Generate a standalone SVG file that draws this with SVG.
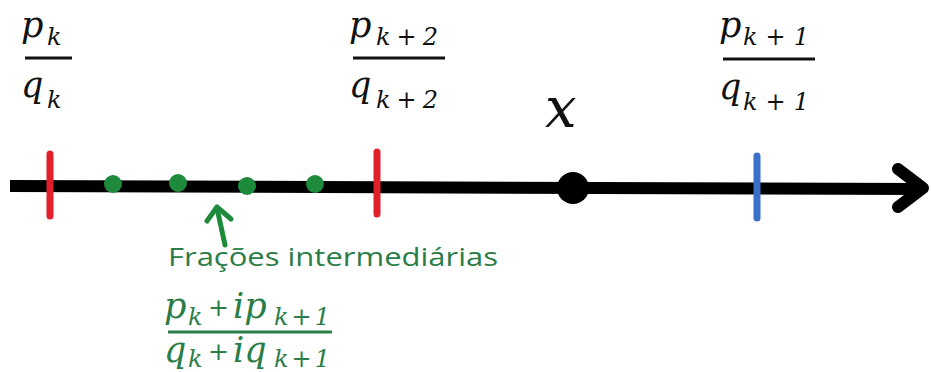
<svg xmlns="http://www.w3.org/2000/svg" width="931" height="372" viewBox="0 0 931 372">
<style>
.m{font-family:"DejaVu Serif","Liberation Serif",serif;font-style:italic;fill:#111}
.big{font-size:35px}
.sub{font-size:24px}
.plus{font-size:25px;font-style:normal}
.g{fill:#2a7d47}
.gt{font-family:"Open Sans","Liberation Sans",sans-serif;font-size:25px;fill:#2a7d47}
.fl{stroke:#111;stroke-width:3}
.gfl{stroke:#2a7d47;stroke-width:3}
.tick{stroke-width:7;stroke-linecap:round;fill:none}
.dot{fill:#1e8a3c}
</style>
<rect width="931" height="372" fill="#fff"/>
<g id="axis">
<line x1="10" y1="186" x2="920" y2="189" stroke="#000" stroke-width="12"/>
<polyline points="898,169 923,188 898,207" fill="none" stroke="#000" stroke-width="12" stroke-linecap="round" stroke-linejoin="round"/>
</g>
<g id="tick-pk">
<line class="tick" x1="50" y1="154" x2="50" y2="216" stroke="#e0202a"/>
</g>
<g id="tick-pk2">
<line class="tick" x1="377" y1="152" x2="377" y2="214" stroke="#e0202a"/>
</g>
<g id="tick-pk1">
<line class="tick" x1="757" y1="156" x2="757" y2="218" stroke="#3a70c8"/>
</g>
<g id="point-x">
<circle cx="573" cy="188" r="16" fill="#000"/>
<text class="m" x="545" y="127" font-size="56">x</text>
</g>
<g id="intermediate-dots">
<circle class="dot" cx="113" cy="184" r="9"/>
<circle class="dot" cx="178" cy="183" r="9"/>
<circle class="dot" cx="247" cy="186" r="9"/>
<circle class="dot" cx="315" cy="184" r="9"/>
</g>
<g id="frac-pk">
<text class="m big" x="21" y="37">p</text>
<text class="m sub" x="47" y="45">k</text>
<line class="fl" x1="25" y1="58" x2="72" y2="58"/>
<text class="m big" x="21" y="97">q</text>
<text class="m sub" x="47" y="108">k</text>
</g>
<g id="frac-pk2">
<text class="m big" x="349" y="37">p</text>
<text class="m sub" x="376" y="45" textLength="62" lengthAdjust="spacing">k+2</text>
<line class="fl" x1="353" y1="58" x2="445" y2="58"/>
<text class="m big" x="349" y="97">q</text>
<text class="m sub" x="376" y="108" textLength="62" lengthAdjust="spacing">k+2</text>
</g>
<g id="frac-pk1">
<text class="m big" x="719" y="37">p</text>
<text class="m sub" x="743" y="45" textLength="66" lengthAdjust="spacing">k+1</text>
<line class="fl" x1="723" y1="59" x2="815" y2="59"/>
<text class="m big" x="719" y="99">q</text>
<text class="m sub" x="743" y="110" textLength="66" lengthAdjust="spacing">k+1</text>
</g>
<g id="connectors">
<polyline points="225,245 217,208" fill="none" stroke="#1e8a3c" stroke-width="5" stroke-linecap="round"/>
<polyline points="207,221 217,207 231,219" fill="none" stroke="#1e8a3c" stroke-width="5" stroke-linecap="round" stroke-linejoin="round"/>
</g>
<g id="label-intermediate">
<text class="gt" x="168" y="266" textLength="330" lengthAdjust="spacingAndGlyphs">Frações intermediárias</text>
<text class="m big g" x="164" y="318">p</text>
<text class="m sub g" x="188" y="325">k</text>
<text class="m plus g" x="208" y="316">+</text>
<text class="m big g" x="233" y="318">ip</text>
<text class="m sub g" x="274" y="325" textLength="56" lengthAdjust="spacing">k+1</text>
<line class="gfl" x1="168" y1="332" x2="332" y2="332"/>
<text class="m big g" x="164" y="362">q</text>
<text class="m sub g" x="188" y="367">k</text>
<text class="m plus g" x="208" y="360">+</text>
<text class="m big g" x="233" y="362">iq</text>
<text class="m sub g" x="274" y="367" textLength="56" lengthAdjust="spacing">k+1</text>
</g>
</svg>
